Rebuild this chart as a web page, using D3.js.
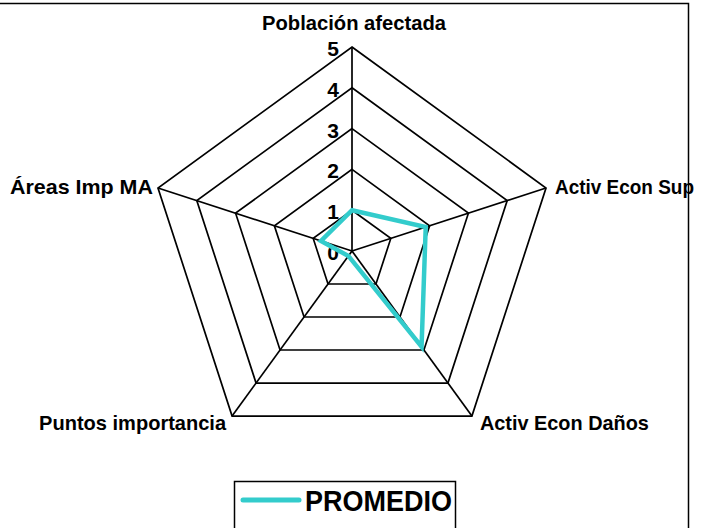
<!DOCTYPE html>
<html><head><meta charset="utf-8">
<script src="https://cdn.jsdelivr.net/npm/d3@7"></script>
<style>body{margin:0;background:#fff}svg{display:block}text{font-family:'Liberation Sans',Arial,sans-serif;font-weight:bold;fill:#000}</style>
</head><body><svg id="c" width="702" height="528"></svg>
<script>
const categories = ["Población afectada","Activ Econ Sup","Activ Econ Daños","Puntos importancia","Áreas Imp MA"];
const seriesName = "PROMEDIO";
const values = [1.0, 1.9, 2.9, 0.15, 0.8];
const ticks = [0,1,2,3,4,5];

const svg = d3.select("#c");
const cx = 352, cy = 251, R = 204;
const r = d3.scaleLinear().domain([0,5]).range([0,R]);
const n = categories.length;
const ang = i => -Math.PI/2 + i*2*Math.PI/n;
const pt = (i,v) => [cx + r(v)*Math.cos(ang(i)), cy + r(v)*Math.sin(ang(i))];

// frame
svg.append("path").attr("d","M0,3.5H688.5V528").attr("fill","none").attr("stroke","#000").attr("stroke-width",1.5);

// grid
const g = svg.append("g");
ticks.slice(1).forEach(t=>{
  g.append("path").attr("d", d3.line()(d3.range(n).map(i=>pt(i,t)))+"Z")
   .attr("fill","none").attr("stroke","#000").attr("stroke-width",1.7);
});
d3.range(n).forEach(i=>{
  const [x,y]=pt(i,5);
  g.append("line").attr("x1",cx).attr("y1",cy).attr("x2",x).attr("y2",y).attr("stroke","#000").attr("stroke-width",1.7);
});

// tick labels
ticks.forEach(t=>{
  svg.append("text").attr("x",cx-13).attr("y",cy-r(t)+9).attr("text-anchor","end")
    .attr("font-size",21).text(t);
});

// series
svg.append("path").attr("d", d3.line()(values.map((v,i)=>pt(i,v)))+"Z")
  .attr("fill","none").attr("stroke","#33CCCC").attr("stroke-width",4.5).attr("stroke-linejoin","miter");

// category labels
const lab = [
  {dx:2, dy:-17.5, a:"middle", w:184},
  {dx:9, dy:6, a:"start", w:139},
  {dx:8, dy:14, a:"start", w:169},
  {dx:-6, dy:14, a:"end", w:187},
  {dx:-5, dy:6, a:"end", w:143}
];
categories.forEach((c,i)=>{
  const [x,y]=pt(i,5);
  svg.append("text").attr("x",x+lab[i].dx).attr("y",y+lab[i].dy).attr("text-anchor",lab[i].a)
    .attr("font-size",20.5).attr("textLength",lab[i].w).attr("lengthAdjust","spacingAndGlyphs").text(c);
});

// legend
const lg = svg.append("g");
lg.append("rect").attr("x",234.5).attr("y",481.5).attr("width",221).attr("height",60).attr("fill","#fff").attr("stroke","#000").attr("stroke-width",1.5);
lg.append("line").attr("x1",243).attr("x2",299).attr("y1",500).attr("y2",500).attr("stroke","#33CCCC").attr("stroke-width",5).attr("stroke-linecap","round");
lg.append("text").attr("x",305).attr("y",511).attr("font-size",29).attr("textLength",147).attr("lengthAdjust","spacingAndGlyphs").text(seriesName);
</script></body></html>
